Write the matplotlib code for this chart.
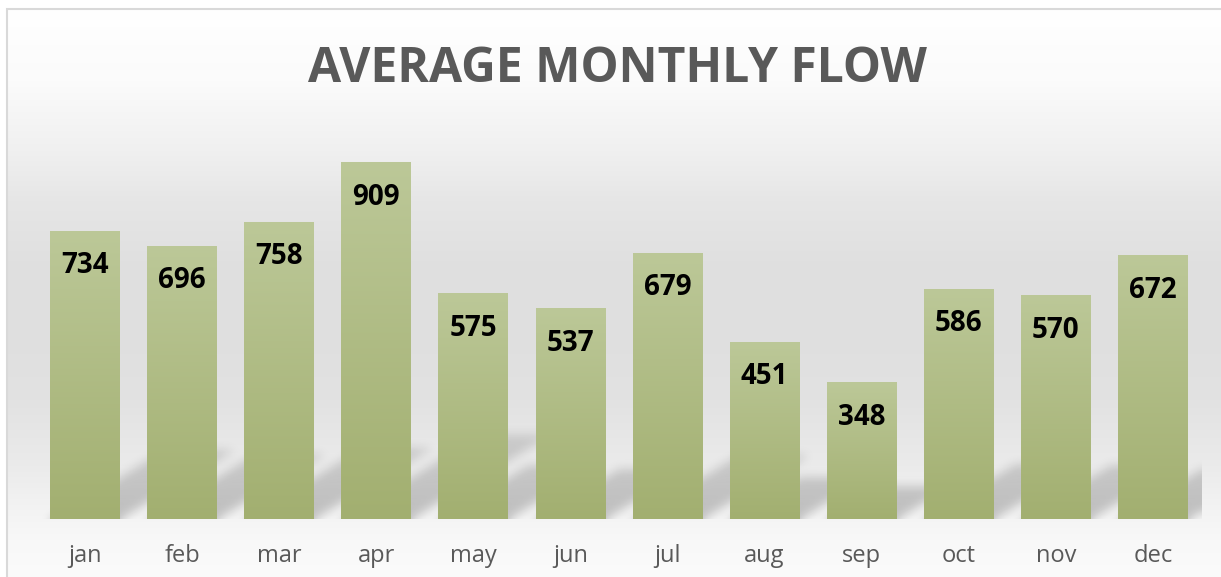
import numpy as np
import matplotlib
matplotlib.use("Agg")
import matplotlib.pyplot as plt
from matplotlib.patches import Rectangle

# ---- data ----
months = ["jan", "feb", "mar", "apr", "may", "jun", "jul", "aug", "sep", "oct", "nov", "dec"]
flow = [734, 696, 758, 909, 575, 537, 679, 451, 348, 586, 570, 672]
title = "AVERAGE MONTHLY FLOW"

W, H = 1221, 577
DPI = 100
FONT = "Open Sans"

fig = plt.figure(figsize=(W / DPI, H / DPI), dpi=DPI)
fig.patch.set_facecolor("white")

# ---- chart-area background gradient ----
bx0 = 7 / W
btop = (H - 9) / H
ax_bg = fig.add_axes([bx0, 0, 1 - bx0, btop], zorder=0)
stops_px = [9, 80, 150, 200, 260, 330, 400, 460, 510, 540, 577]
stops_v = [255, 251, 240, 230, 224, 223, 226, 234, 243, 248, 251]
rows = np.arange(9, H)
vals = np.interp(rows, stops_px, stops_v) / 255.0
bg = np.repeat(vals[:, None, None], 3, axis=2)
ax_bg.imshow(bg, aspect="auto", extent=[0, 1, 0, 1], interpolation="nearest")
ax_bg.axis("off")

fig.add_artist(Rectangle((bx0, -0.5), 2, btop + 0.5, transform=fig.transFigure,
                         fill=False, ec="#d9d9d9", lw=1.5, zorder=10))

# ---- main axes ----
L = 36.5 / W
R = 1201.5 / W
B = (H - 519) / H
T = (H - 130) / H
ax = fig.add_axes([L, B, R - L, T - B], zorder=1)
ax.set_facecolor("none")

x = np.arange(len(months))
bw = 0.72
bars = ax.bar(x, flow, width=bw, color="none", edgecolor="none", zorder=3)
ymax = max(flow) * 1.0925

# per-bar vertical gradient
top_c = np.array([188, 200, 152]) / 255.0
bot_c = np.array([162, 175, 112]) / 255.0
t = np.linspace(0, 1, 400)[:, None]
grad = (top_c[None, :] * (1 - t) + bot_c[None, :] * t)[:, None, :]
for b in bars:
    x0, y0 = b.get_x(), b.get_y()
    w, h = b.get_width(), b.get_height()
    ax.imshow(grad, extent=[x0, x0 + w, y0, y0 + h], aspect="auto",
              zorder=3, interpolation="bilinear")

# ---- perspective shadow behind the bars ----
nx = int(round(R * W - L * W))
ny = int(round(T * H - B * H))
xs = -0.5 + (np.arange(nx) + 0.5) / nx * len(months)
ys = (np.arange(ny) + 0.5) / ny * ymax
X, Y = np.meshgrid(xs, ys)
mask = np.zeros_like(X)
kh = 0.24
c = 0.0067
for i, v in enumerate(flow):
    inside = (Y <= kh * v) & (np.abs(X - i - c * Y) <= bw / 2)
    mask = np.maximum(mask, inside.astype(float))


def blur(a, s):
    r = int(3 * s)
    k = np.exp(-0.5 * (np.arange(-r, r + 1) / s) ** 2)
    k /= k.sum()
    a = np.pad(a, r, mode="edge")
    a = np.apply_along_axis(lambda m: np.convolve(m, k, "same"), 0, a)
    a = np.apply_along_axis(lambda m: np.convolve(m, k, "same"), 1, a)
    return a[r:-r, r:-r]


sh = blur(mask, 5.0)
fade = 1 - 0.45 * np.clip(Y / (kh * max(flow)), 0, 1)
rgba = np.zeros((ny, nx, 4))
rgba[..., 3] = sh * 0.22 * fade
ax.imshow(rgba, origin="lower", extent=[-0.5, len(months) - 0.5, 0, ymax],
          aspect="auto", zorder=2, interpolation="bilinear")

ax.set_xlim(-0.5, len(months) - 0.5)
ax.set_ylim(0, ymax)

# ---- data labels ----
for i, v in enumerate(flow):
    ax.annotate(str(v), (i, v), xytext=(0, -30.2), textcoords="offset points",
                ha="center", va="baseline", fontsize=20, fontweight="bold",
                family=FONT, color="black", zorder=5)

# ---- axes cosmetics ----
ax.set_xticks(x, months)
ax.tick_params(axis="x", length=0, pad=18.0, labelsize=17, labelcolor="#595959")
for lab in ax.get_xticklabels():
    lab.set_family(FONT)
ax.set_yticks([])
for s in ax.spines.values():
    s.set_visible(False)

fig.text(617 / W, (H - 82) / H, title, ha="center", va="baseline", fontsize=34.6,
         fontweight="bold", color="#595959", family=FONT)

fig.savefig("out.png", dpi=DPI)
